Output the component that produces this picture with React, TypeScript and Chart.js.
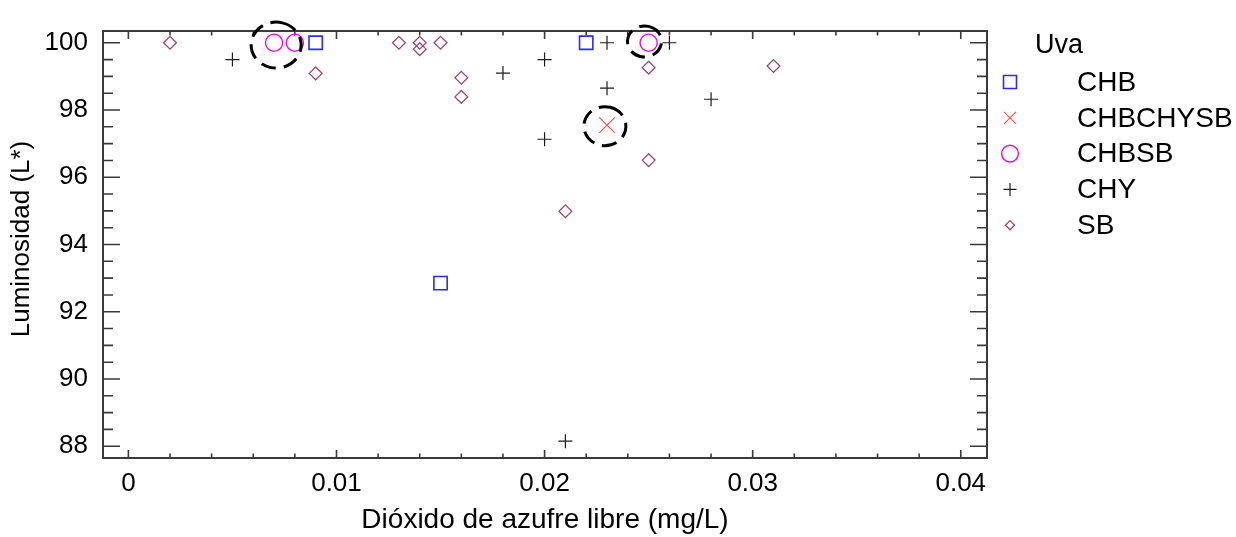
import React, { useEffect, useRef } from 'react';
import { Chart, registerables } from 'chart.js';

Chart.register(...registerables);

// Grape groups and their measurements (free SO2 in mg/L vs. lightness L*)
const groupNames = ['CHB', 'CHBCHYSB', 'CHBSB', 'CHY', 'SB'];

const chbSO2 = [0.009, 0.015, 0.022];
const chbL = [100, 92.85, 100];

const chbchysbSO2 = [0.023];
const chbchysbL = [97.55];

const chbsbSO2 = [0.007, 0.008, 0.025];
const chbsbL = [100, 100, 100];

const chySO2 = [0.005, 0.018, 0.02, 0.02, 0.021, 0.023, 0.023, 0.026, 0.028];
const chyL = [99.5, 99.1, 99.5, 97.13, 88.15, 100, 98.65, 100, 98.32];

const sbSO2 = [0.002, 0.009, 0.013, 0.014, 0.014, 0.015, 0.016, 0.016, 0.021, 0.025, 0.025, 0.031];
const sbL = [100, 99.09, 100, 100, 99.81, 100, 98.96, 98.39, 94.99, 99.26, 96.51, 99.31];

// Axis ticks
const xTicks = [0, 0.01, 0.02, 0.03, 0.04];
const xTickLabels = ['0', '0.01', '0.02', '0.03', '0.04'];
const yTicks = [88, 90, 92, 94, 96, 98, 100];
const yTickLabels = ['88', '90', '92', '94', '96', '98', '100'];

// Dashed rings that call out particular points (data coordinates)
const ringSO2 = [0.0071, 0.0248, 0.0229];
const ringL = [99.93, 100.04, 97.52];

const legendTitle = 'Uva';
const yTitle = 'Luminosidad (L*)';
const xTitle = 'Dióxido de azufre libre (mg/L)';

const FONT = '"Liberation Sans", Arial, sans-serif';

const styles = [
  { color: '#2b2bff', style: 'rect', radius: 9.4, width: 1.6 },
  { color: '#ff4c4c', style: 'crossRot', radius: 11, width: 1.2 },
  { color: '#f000f0', style: 'circle', radius: 8.6, width: 1.4 },
  { color: '#1c1c1c', style: 'cross', radius: 7, width: 1.2 },
  { color: '#9c4672', style: 'rectRot', radius: 6.4, width: 1.3 },
];

const seriesX = [chbSO2, chbchysbSO2, chbsbSO2, chySO2, sbSO2];
const seriesY = [chbL, chbchysbL, chbsbL, chyL, sbL];

function legendMarker(ctx: CanvasRenderingContext2D, style: string, cx: number, cy: number) {
  ctx.beginPath();
  if (style === 'rect') {
    ctx.rect(cx - 6.5, cy - 6.5, 13, 13);
  } else if (style === 'crossRot') {
    ctx.moveTo(cx - 6, cy - 6);
    ctx.lineTo(cx + 6, cy + 6);
    ctx.moveTo(cx + 6, cy - 6);
    ctx.lineTo(cx - 6, cy + 6);
  } else if (style === 'circle') {
    ctx.arc(cx, cy, 8.4, 0, Math.PI * 2);
  } else if (style === 'cross') {
    ctx.moveTo(cx - 6.5, cy);
    ctx.lineTo(cx + 6.5, cy);
    ctx.moveTo(cx, cy - 6.5);
    ctx.lineTo(cx, cy + 6.5);
  } else {
    ctx.moveTo(cx - 4.6, cy);
    ctx.lineTo(cx, cy - 4.6);
    ctx.lineTo(cx + 4.6, cy);
    ctx.lineTo(cx, cy + 4.6);
    ctx.closePath();
  }
  ctx.stroke();
}

const framePlugin = {
  id: 'frameTicks',
  beforeDatasetsDraw(chart: any) {
    const { ctx, chartArea: a, scales } = chart;
    const x = scales.x;
    const y = scales.y;
    ctx.save();
    ctx.strokeStyle = '#3a3a3a';
    ctx.lineWidth = 2;
    ctx.strokeRect(a.left, a.top, a.right - a.left, a.bottom - a.top);
    ctx.lineWidth = 1.6;
    ctx.beginPath();
    // horizontal axis ticks (bottom and top, pointing inward)
    for (let k = 0; k <= 21; k++) {
      const v = k * 0.002;
      const px = x.getPixelForValue(v);
      if (px <= a.left + 1 || px >= a.right - 1) continue;
      const major = k % 5 === 0;
      const len = major ? 8 : 4.5;
      ctx.moveTo(px, a.bottom);
      ctx.lineTo(px, a.bottom - len);
      ctx.moveTo(px, a.top);
      ctx.lineTo(px, a.top + len);
    }
    // vertical axis ticks (left and right, pointing inward)
    for (let k = 0; k <= 26; k++) {
      const v = 87.5 + k * 0.5;
      const py = y.getPixelForValue(v);
      if (py <= a.top + 1 || py >= a.bottom - 1) continue;
      const major = Math.abs(v % 2) < 1e-9;
      const len = major ? 17 : 10;
      ctx.moveTo(a.left, py);
      ctx.lineTo(a.left + len, py);
      ctx.moveTo(a.right, py);
      ctx.lineTo(a.right - len, py);
    }
    ctx.stroke();
    ctx.restore();
  },
  afterDatasetsDraw(chart: any) {
    const { ctx, scales } = chart;
    const x = scales.x;
    const y = scales.y;
    ctx.save();
    // dashed call-out rings
    const radii = [
      [25, 23],
      [17, 15.5],
      [21, 19.5],
    ];
    ctx.strokeStyle = '#000';
    ctx.lineWidth = 3;
    ctx.setLineDash([15, 8]);
    ringSO2.forEach((v, i) => {
      const cx = x.getPixelForValue(v);
      const cy = y.getPixelForValue(ringL[i]);
      ctx.beginPath();
      ctx.ellipse(cx, cy, radii[i][0], radii[i][1], 0, -Math.PI * 0.42, Math.PI * 1.58);
      ctx.stroke();
    });
    ctx.setLineDash([]);

    // vertical axis title
    ctx.fillStyle = '#000';
    ctx.save();
    ctx.translate(22, 239);
    ctx.rotate(-Math.PI / 2);
    ctx.textAlign = 'center';
    ctx.textBaseline = 'middle';
    ctx.font = `26px ${FONT}`;
    ctx.fillText(yTitle, 0, 0);
    ctx.restore();

    // legend
    ctx.textBaseline = 'middle';
    ctx.textAlign = 'left';
    ctx.font = `27px ${FONT}`;
    ctx.fillText(legendTitle, 1035, 46);
    groupNames.forEach((name, i) => {
      const cy = 82 + i * 35.8;
      const s = styles[i];
      ctx.strokeStyle = s.color;
      ctx.lineWidth = s.width;
      legendMarker(ctx, s.style, 1010, cy);
      ctx.fillStyle = '#000';
      ctx.font = `28px ${FONT}`;
      ctx.fillText(name, 1077, cy + 1);
    });
    ctx.restore();
  },
};

export default function App() {
  const ref = useRef<HTMLCanvasElement>(null);

  useEffect(() => {
    const canvas = ref.current;
    if (!canvas) return;
    const datasets = groupNames.map((name, i) => ({
      label: name,
      data: seriesX[i].map((v, j) => ({ x: v, y: seriesY[i][j] })),
      pointStyle: styles[i].style as any,
      pointRadius: styles[i].radius,
      pointBorderWidth: styles[i].width,
      borderColor: styles[i].color,
      pointBorderColor: styles[i].color,
      backgroundColor: 'rgba(0,0,0,0)',
      pointBackgroundColor: 'rgba(0,0,0,0)',
      showLine: false,
      clip: false as any,
    }));

    const chart = new Chart(canvas, {
      type: 'scatter',
      data: { datasets },
      plugins: [framePlugin],
      options: {
        animation: false,
        responsive: false,
        devicePixelRatio: 1,
        events: [],
        layout: { padding: { left: 0, right: 249, top: 31, bottom: 0 } },
        plugins: {
          legend: { display: false },
          tooltip: { enabled: false },
        },
        scales: {
          x: {
            type: 'linear',
            min: -0.00122,
            max: 0.04126,
            grid: { display: false, drawTicks: false },
            border: { display: false },
            afterBuildTicks: (scale: any) => {
              scale.ticks = xTicks.map((v) => ({ value: v }));
            },
            afterFit: (scale: any) => {
              scale.height = 79;
            },
            ticks: {
              autoSkip: false,
              maxRotation: 0,
              padding: 10,
              color: '#000',
              font: { family: FONT, size: 26 },
              callback: (_v: any, i: number) => xTickLabels[i],
            },
            title: {
              display: true,
              text: xTitle,
              color: '#000',
              font: { family: FONT, size: 28 },
              padding: { top: 0, bottom: 0 },
            },
          },
          y: {
            type: 'linear',
            min: 87.65,
            max: 100.35,
            grid: { display: false, drawTicks: false },
            border: { display: false },
            afterBuildTicks: (scale: any) => {
              scale.ticks = yTicks.map((v) => ({ value: v }));
            },
            afterFit: (scale: any) => {
              scale.width = 103;
            },
            ticks: {
              autoSkip: false,
              padding: 15,
              color: '#000',
              font: { family: FONT, size: 26 },
              callback: (_v: any, i: number) => yTickLabels[i],
            },
          },
        },
      },
    });
    return () => chart.destroy();
  }, []);

  return (
    <div style={{ position: 'absolute', left: 0, top: 0, width: 1236, height: 537, background: '#fff' }}>
      <canvas ref={ref} width={1236} height={537} style={{ display: 'block', width: 1236, height: 537 }} />
    </div>
  );
}
